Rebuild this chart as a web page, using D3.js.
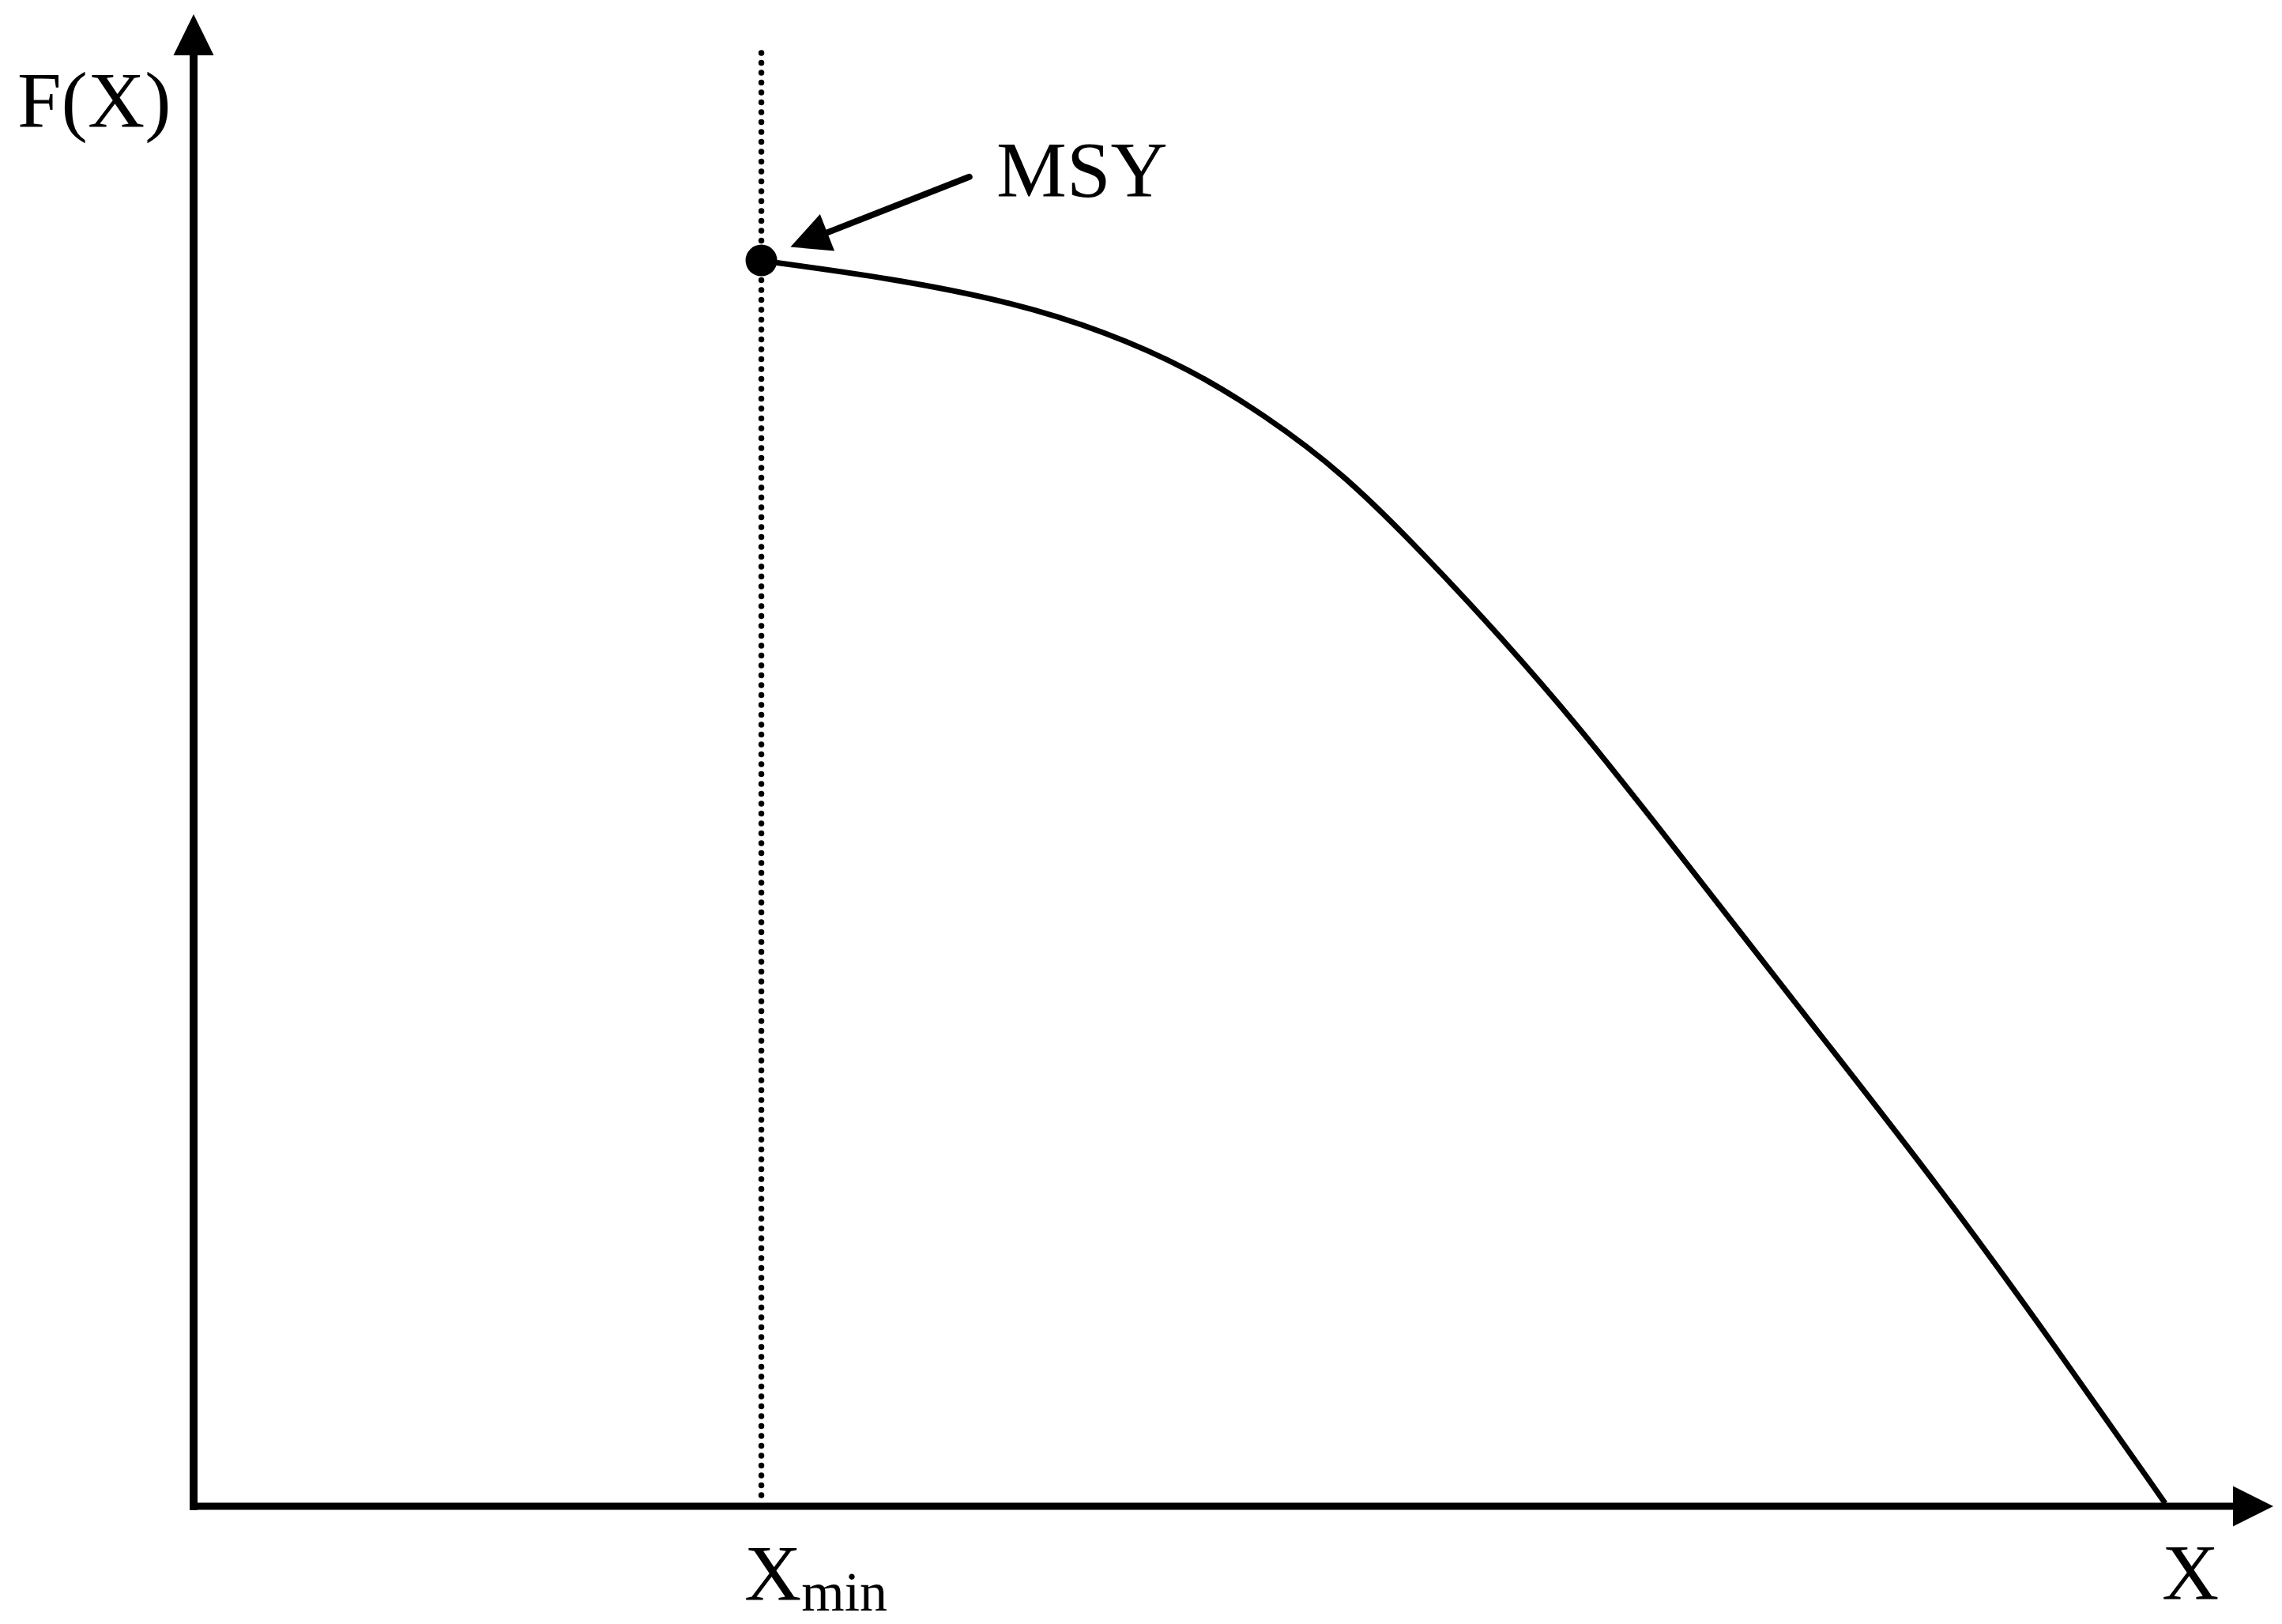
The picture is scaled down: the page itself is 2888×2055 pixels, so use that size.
<!DOCTYPE html>
<html>
<head>
<meta charset="utf-8">
<script src="https://cdn.jsdelivr.net/npm/d3@7"></script>
<style>
  html, body { margin: 0; padding: 0; background: #fff; }
  svg text { font-family: "Liberation Serif", "Times New Roman", serif; fill: #000; }
</style>
</head>
<body>
<svg id="chart"></svg>
<script>
// curve F(X) (x and F both on a 0-100 scale)
var curveX = [27.2, 33.6, 39.4, 43.9, 47.8, 51.5, 55.3, 59.1, 62.9, 66.7, 70.5, 74.3, 78.1, 83.9, 89.5, 94.8]
var curveF = [83.5, 82.3, 80.7, 78.7, 76.3, 73.15, 69.2, 63.9, 58.2, 52.1, 45.4, 38.6, 31.8, 21.5, 10.75, 0.2]

var xMin = 27.3          // position of the dotted line
var msyPoint = [27.3, 83.5]
var msyArrowFrom = [37.3, 89.1]
var msyArrowTo = [28.7, 84.4]
var dottedTop = 97.4

var labels = {y: "F(X)", x: "X", msy: "MSY", xmin: "X", xminSub: "min"}

var screen = {width: 2888, height: 2055}

var svg = d3.select("#chart")
    .attr("width", screen.width)
    .attr("height", screen.height)

var xScale = d3.scaleLinear()
    .domain([0, 100])
    .range([245, 2877])
var yScale = d3.scaleLinear()
    .domain([0, 100])
    .range([1906, 18])

// filled triangle arrow head, tip at (tx,ty), pointing along (dx,dy)
var arrowHead = function(g, tx, ty, dx, dy, len, wid)
{
    var n = Math.sqrt(dx*dx + dy*dy)
    var ux = dx/n, uy = dy/n
    var bx = tx - ux*len, by = ty - uy*len
    var pts = [[tx, ty], [bx - uy*wid/2, by + ux*wid/2], [bx + uy*wid/2, by - ux*wid/2]]
    g.append("path")
        .attr("d", d3.line()(pts) + "Z")
        .attr("fill", "#000")
}

var axes = svg.append("g").classed("axes", true)

// y axis
axes.append("line")
    .attr("x1", xScale(0)).attr("y1", yScale(0) + 5)
    .attr("x2", xScale(0)).attr("y2", yScale(100) + 50)
    .attr("stroke", "#000").attr("stroke-width", 10)
arrowHead(axes, xScale(0), yScale(100), 0, -1, 52, 51)

// x axis
axes.append("line")
    .attr("x1", xScale(0) - 5).attr("y1", yScale(0))
    .attr("x2", xScale(100) - 50).attr("y2", yScale(0))
    .attr("stroke", "#000").attr("stroke-width", 9)
arrowHead(axes, xScale(100), yScale(0), 1, 0, 51, 51)

// dotted Xmin line
svg.append("line")
    .attr("x1", xScale(xMin)).attr("y1", yScale(dottedTop))
    .attr("x2", xScale(xMin)).attr("y2", yScale(0) - 12)
    .attr("stroke", "#000")
    .attr("stroke-width", 7.5)
    .attr("stroke-linecap", "round")
    .attr("stroke-dasharray", "0 12.5")

// the curve
var lineGenerator = d3.line()
    .x(function(d){ return xScale(d[0]) })
    .y(function(d){ return yScale(d[1]) })
    .curve(d3.curveBasis)

svg.append("path")
    .datum(d3.zip(curveX, curveF))
    .attr("d", lineGenerator)
    .attr("fill", "none")
    .attr("stroke", "#000")
    .attr("stroke-width", 7)

// MSY point
svg.append("circle")
    .attr("cx", xScale(msyPoint[0]))
    .attr("cy", yScale(msyPoint[1]))
    .attr("r", 20)
    .attr("fill", "#000")

// MSY arrow
var ax1 = xScale(msyArrowFrom[0]), ay1 = yScale(msyArrowFrom[1])
var ax2 = xScale(msyArrowTo[0]), ay2 = yScale(msyArrowTo[1])
var adx = ax2 - ax1, ady = ay2 - ay1
var alen = Math.sqrt(adx*adx + ady*ady)
svg.append("line")
    .attr("x1", ax1).attr("y1", ay1)
    .attr("x2", ax2 - adx/alen*45).attr("y2", ay2 - ady/alen*45)
    .attr("stroke", "#000")
    .attr("stroke-width", 8)
    .attr("stroke-linecap", "round")
arrowHead(svg, ax2, ay2, adx, ady, 50, 50)

// labels
var txt = svg.append("g").classed("labels", true)

txt.append("text")
    .text(labels.y)
    .attr("x", 22)
    .attr("y", 160)
    .attr("font-size", 100)

txt.append("text")
    .text(labels.msy)
    .attr("x", 1261)
    .attr("y", 248)
    .attr("font-size", 100)

txt.append("text")
    .text(labels.x)
    .attr("x", 2736)
    .attr("y", 2023)
    .attr("font-size", 100)

var xm = txt.append("text")
    .attr("x", 942)
    .attr("y", 2024)
    .attr("font-size", 100)
xm.append("tspan").text(labels.xmin)
xm.append("tspan")
    .text(labels.xminSub)
    .attr("font-size", 70)
    .attr("dy", 14)
</script>
</body>
</html>
